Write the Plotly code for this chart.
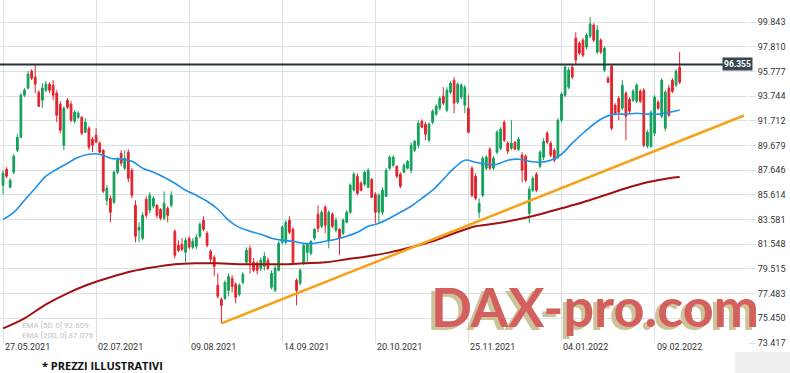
import plotly.graph_objects as go

# ---------------- data ----------------
open_ = [86.41, 87.72, 86.24, 87.48, 89.29, 90.36, 93.82, 94.40, 95.80, 95.31,
         94.07, 93.41, 94.23, 94.73, 94.65, 93.99, 93.08, 89.70, 93.41, 93.08,
         91.68, 92.01, 92.01, 90.77, 91.10, 90.20, 90.53, 89.87, 89.29, 85.17,
         85.33, 85.01, 87.48, 89.04, 87.81, 89.13, 87.64, 84.76, 82.70, 82.04,
         85.25, 84.35, 84.68, 84.76, 84.43, 83.69, 84.51, 84.76, 82.62, 81.46,
         81.54, 80.89, 82.04, 81.30, 81.38, 82.20, 83.52, 82.45, 80.97, 80.47,
         78.17, 77.01, 77.09, 77.75, 78.74, 78.25, 77.42, 78.41, 80.06, 81.21,
         80.06, 79.98, 79.57, 79.73, 80.23, 78.00, 77.75, 79.40, 81.71, 81.71,
         83.52, 82.78, 78.58, 78.33, 79.98, 80.89, 80.80, 82.04, 84.02, 83.03,
         84.59, 81.87, 84.02, 82.70, 82.78, 82.45, 83.36, 84.18, 85.99, 87.15,
         86.57, 86.49, 86.24, 86.90, 85.66, 84.18, 84.18, 85.50, 87.81, 88.05,
         87.97, 87.31, 87.48, 87.81, 87.64, 89.29, 89.70, 91.68, 91.43, 90.11,
         91.60, 92.26, 92.75, 93.74, 92.59, 94.07, 95.06, 93.25, 93.66, 93.00,
         92.75, 87.81, 87.15, 84.18, 85.58, 87.81, 89.37, 87.81, 89.13, 89.45,
         91.60, 89.87, 89.45, 89.95, 89.37, 88.88, 88.80, 84.10, 85.99, 87.31,
         87.97, 88.71, 90.69, 89.87, 89.29, 88.71, 91.76, 93.82, 94.48, 96.13,
         98.52, 98.11, 98.35, 97.78, 98.68, 99.59, 97.37, 98.35, 95.88, 95.22,
         96.21, 93.00, 93.57, 92.75, 93.99, 93.49, 93.41, 93.33, 94.15, 94.23,
         89.62, 89.62, 90.69, 93.25, 92.09, 91.10, 94.40, 95.06, 94.65, 96.13]

high = [87.64, 87.89, 86.98, 88.96, 90.61, 93.99, 94.40, 95.80, 95.96, 96.29,
        94.23, 94.81, 94.98, 94.89, 95.06, 94.23, 93.33, 92.92, 93.57, 93.33,
        92.59, 92.50, 92.09, 91.93, 91.27, 90.36, 91.10, 90.03, 89.37, 86.41,
        85.58, 87.64, 88.71, 89.29, 89.29, 89.37, 87.81, 85.17, 83.36, 84.18,
        85.50, 85.83, 85.50, 84.84, 84.51, 85.91, 84.68, 85.91, 82.78, 81.87,
        82.04, 82.12, 82.20, 82.04, 82.37, 83.36, 83.85, 82.62, 81.13, 80.64,
        79.15, 77.18, 78.58, 79.15, 78.99, 78.41, 78.33, 79.24, 81.30, 81.46,
        80.39, 80.14, 80.47, 80.89, 80.47, 79.40, 79.81, 81.79, 83.11, 83.52,
        83.85, 82.95, 78.74, 79.57, 81.63, 81.63, 81.87, 82.86, 84.76, 84.35,
        84.76, 84.35, 84.18, 83.77, 82.86, 83.69, 84.35, 86.57, 87.48, 87.39,
        86.74, 87.64, 87.81, 86.98, 85.83, 85.75, 86.24, 87.81, 88.88, 88.88,
        88.05, 87.48, 88.22, 88.47, 89.95, 90.11, 91.76, 91.84, 91.60, 91.60,
        92.67, 93.08, 93.74, 94.48, 94.48, 94.98, 95.31, 94.89, 94.81, 94.65,
        93.82, 87.97, 87.39, 85.33, 88.80, 88.88, 89.54, 88.80, 90.94, 91.19,
        91.76, 90.03, 91.76, 90.03, 90.36, 89.13, 88.96, 86.32, 87.15, 87.48,
        89.29, 90.28, 90.86, 90.03, 89.45, 91.93, 94.07, 96.29, 96.13, 96.29,
        99.01, 98.27, 98.52, 98.93, 100.25, 99.75, 99.59, 98.52, 97.86, 95.39,
        96.38, 93.16, 93.74, 95.06, 94.15, 93.66, 94.32, 94.81, 94.32, 94.40,
        90.94, 92.59, 93.82, 93.41, 95.22, 94.23, 94.65, 95.22, 95.96, 97.37]

low = [85.66, 86.98, 86.16, 87.31, 89.13, 90.28, 93.66, 94.32, 95.06, 93.99,
       92.83, 92.75, 94.07, 93.99, 93.41, 91.60, 90.69, 89.29, 92.67, 91.60,
       91.51, 91.84, 90.53, 90.69, 89.29, 89.13, 89.87, 89.04, 85.75, 84.76,
       83.36, 84.84, 87.31, 87.97, 87.64, 86.65, 85.33, 81.71, 81.71, 81.87,
       83.69, 84.10, 84.51, 83.69, 83.52, 83.52, 83.36, 84.59, 80.39, 80.89,
       80.97, 80.06, 81.13, 81.13, 81.13, 82.04, 82.62, 81.30, 80.06, 78.91,
       77.09, 75.03, 76.93, 77.26, 77.59, 76.68, 77.26, 78.25, 79.90, 79.15,
       79.24, 79.07, 79.32, 79.40, 79.40, 77.84, 77.59, 79.32, 81.54, 81.54,
       82.37, 79.90, 76.52, 78.17, 79.81, 79.98, 80.64, 81.87, 82.53, 82.86,
       82.45, 81.21, 82.86, 82.53, 80.64, 82.29, 83.27, 84.02, 85.91, 85.58,
       85.91, 86.32, 86.16, 85.33, 83.27, 83.27, 83.93, 85.42, 87.64, 87.89,
       86.98, 86.16, 87.39, 87.72, 87.39, 89.13, 89.45, 91.10, 90.11, 89.95,
       91.43, 92.09, 92.59, 93.00, 92.42, 93.90, 92.34, 93.08, 93.49, 92.34,
       90.69, 85.42, 85.17, 83.69, 85.42, 87.64, 87.64, 87.64, 88.96, 89.29,
       89.95, 88.96, 89.29, 89.29, 89.21, 86.65, 86.65, 83.27, 85.83, 85.83,
       87.81, 88.47, 89.78, 88.71, 88.30, 88.55, 91.60, 93.66, 94.32, 95.14,
       96.38, 97.12, 96.95, 97.61, 98.52, 98.19, 97.20, 97.20, 95.72, 94.81,
       90.94, 92.17, 91.76, 92.59, 90.11, 92.34, 93.25, 93.16, 93.16, 89.54,
       89.45, 89.45, 90.44, 92.59, 91.93, 90.86, 92.01, 93.99, 94.48, 94.73]

close = [87.39, 87.15, 86.82, 88.80, 90.36, 93.82, 94.23, 95.55, 95.22, 94.73,
         92.92, 94.40, 94.73, 94.23, 93.82, 92.17, 90.94, 92.75, 92.83, 91.76,
         92.42, 92.34, 90.69, 91.60, 89.54, 89.70, 89.95, 89.13, 85.91, 86.16,
         84.18, 87.48, 88.47, 88.22, 88.63, 86.98, 85.58, 82.20, 82.95, 83.93,
         83.93, 85.58, 85.33, 83.93, 83.69, 84.92, 83.93, 85.58, 80.64, 81.05,
         81.13, 81.87, 81.30, 81.79, 82.12, 83.19, 82.78, 81.46, 80.31, 79.73,
         77.26, 76.52, 78.41, 78.91, 78.08, 77.18, 78.17, 79.07, 81.05, 80.06,
         79.40, 79.40, 80.23, 80.56, 79.57, 79.15, 79.57, 81.63, 82.95, 83.36,
         82.53, 80.06, 77.75, 79.40, 81.46, 81.54, 81.79, 82.78, 82.86, 84.18,
         83.11, 84.18, 83.03, 83.52, 82.04, 83.52, 84.18, 86.41, 87.31, 85.75,
         85.99, 87.48, 87.64, 85.42, 84.18, 85.58, 85.99, 87.64, 88.71, 88.71,
         87.15, 86.32, 88.05, 88.38, 89.70, 90.03, 91.51, 91.19, 90.61, 91.43,
         92.50, 92.92, 93.57, 93.16, 94.23, 94.81, 93.16, 94.73, 94.65, 94.48,
         90.77, 85.58, 85.33, 84.92, 88.63, 88.71, 87.81, 88.63, 90.77, 91.02,
         90.11, 89.21, 89.87, 89.37, 90.20, 87.64, 86.82, 86.08, 86.98, 85.99,
         89.13, 90.03, 89.95, 88.88, 88.47, 91.76, 93.90, 96.13, 95.88, 95.31,
         96.71, 97.28, 97.12, 98.77, 99.67, 98.35, 99.18, 97.37, 97.69, 94.89,
         91.10, 92.34, 92.42, 94.65, 92.09, 92.50, 94.15, 94.65, 93.33, 89.70,
         90.77, 92.42, 93.66, 92.75, 95.06, 94.07, 92.17, 94.15, 95.80, 94.89]

ema50_idx = [0, 3, 6, 9, 12, 15, 18, 21, 24, 27, 30, 33, 36, 39, 42, 45, 48, 51, 54, 57,
             60, 63, 66, 69, 72, 75, 78, 81, 84, 87, 90, 93, 96, 99, 102, 105, 108, 111,
             114, 117, 120, 123, 126, 129, 132, 135, 138, 141, 144, 147, 150, 153, 156,
             159, 162, 165, 168, 171, 174, 177, 180, 183, 186, 189]
ema50 = [83.60, 84.18, 85.17, 86.16, 87.15, 87.72, 88.22, 88.71, 88.96, 88.96,
         88.63, 88.55, 88.38, 87.81, 87.48, 87.07, 86.57, 86.00, 85.58, 85.09,
         84.43, 83.52, 82.94, 82.62, 82.37, 82.04, 81.87, 81.79, 81.63, 81.63,
         81.79, 81.96, 82.20, 82.53, 83.03, 83.27, 83.69, 84.18, 84.68, 85.33,
         86.00, 86.90, 87.81, 88.47, 88.30, 88.14, 88.14, 88.47, 88.55, 88.38,
         88.30, 88.47, 88.96, 89.87, 90.69, 91.43, 92.01, 92.26, 92.26, 92.34,
         92.26, 92.26, 92.42, 92.61]

ema200_idx = [0, 6, 12, 18, 24, 30, 36, 42, 48, 54, 60, 66, 72, 78, 84, 90, 96, 102,
              108, 114, 120, 126, 132, 138, 144, 150, 156, 162, 168, 174, 180, 186, 189]
ema200 = [74.62, 75.45, 76.60, 77.51, 78.25, 78.83, 79.32, 79.65, 79.90, 79.98,
          79.98, 79.90, 79.90, 79.90, 79.98, 80.06, 80.31, 80.56, 80.88, 81.30,
          81.79, 82.45, 83.03, 83.27, 83.60, 84.02, 84.51, 85.01, 85.58, 86.16,
          86.65, 86.98, 87.08]

trend_idx = [61, 207]
trend_val = [75.03, 92.15]

level = 96.355

x_tick_idx = [0, 26, 52, 78, 104, 130, 156, 182]
x_tick_text = ["27.05.2021", "02.07.2021", "09.08.2021", "14.09.2021",
               "20.10.2021", "25.11.2021", "04.01.2022", "09.02.2022"]

y_tick_vals = [73.417, 75.450, 77.483, 79.515, 81.548, 83.581, 85.614, 87.646,
               89.679, 91.712, 93.744, 95.777, 97.810, 99.843]
y_tick_text = ["73.417", "75.450", "77.483", "79.515", "81.548", "83.581", "85.614",
               "87.646", "89.679", "91.712", "93.744", "95.777", "97.810", "99.843"]

legend_lines = ["EMA [50, 0] 92.609", "EMA [200, 0] 87.076"]

# ---------------- figure ----------------
GREEN = "#12a05a"
RED = "#e3232c"
GRID = "#dde1e4"
FONT = "Roboto"

idx = list(range(len(close)))

fig = go.Figure()
fig.add_trace(go.Candlestick(
    x=idx, open=open_, high=high, low=low, close=close,
    increasing=dict(line=dict(color=GREEN, width=1), fillcolor=GREEN),
    decreasing=dict(line=dict(color=RED, width=1), fillcolor=RED),
    whiskerwidth=0, showlegend=False, hoverinfo="skip"))
fig.add_trace(go.Scatter(x=ema200_idx, y=ema200, mode="lines",
                         line=dict(color="#a01212", width=2, shape="spline"),
                         showlegend=False, hoverinfo="skip"))
fig.add_trace(go.Scatter(x=ema50_idx, y=ema50, mode="lines",
                         line=dict(color="#1e90e8", width=1.6, shape="spline"),
                         showlegend=False, hoverinfo="skip"))
fig.add_trace(go.Scatter(x=trend_idx, y=trend_val, mode="lines",
                         line=dict(color="#f7a11a", width=2.5),
                         showlegend=False, hoverinfo="skip"))

fig.add_shape(type="line", xref="paper", x0=0, x1=1, yref="y", y0=level, y1=level,
              line=dict(color="#263238", width=2), layer="above")

annotations = []
for xi, tx in zip(x_tick_idx, x_tick_text):
    annotations.append(dict(x=xi, y=0, xref="x", yref="paper", text=tx,
                            xanchor="left", yanchor="top", yshift=3, showarrow=False,
                            font=dict(family=FONT, size=9, color="#333333")))

annotations.append(dict(x=737 / 748, y=level, xref="paper", yref="y",
                        text="<b>%.3f</b>" % level, showarrow=False,
                        xanchor="center", yanchor="middle",
                        bgcolor="#37474f", borderpad=1,
                        font=dict(family=FONT, size=8.5, color="#ffffff")))

for k, t in enumerate(legend_lines):
    annotations.append(dict(x=20 / 748, y=[0.052, 0.022][k], xref="paper", yref="paper",
                            text=t, showarrow=False, xanchor="left", yanchor="middle",
                            font=dict(family=FONT, size=8, color="#c2c2c2")))

annotations.append(dict(x=0.795, y=0.105, xref="paper", yref="paper",
                        text="DAX-pro.com", showarrow=False,
                        xanchor="center", yanchor="middle",
                        font=dict(family="Lato", size=54,
                                  weight="bold", color="#d4605e",
                                  shadow="-4px 3px 0px #cdc39a")))

annotations.append(dict(x=40 / 748, y=-0.067, xref="paper", yref="paper",
                        text="<b>* PREZZI ILLUSTRATIVI</b>", showarrow=False,
                        xanchor="left", yanchor="middle",
                        font=dict(family="Open Sans", size=11, color="#111111")))

fig.add_shape(type="rect", xref="paper", yref="paper", x0=735 / 748, x1=790 / 748,
              y0=-0.026, y1=-0.09, fillcolor="#eef0f2", line=dict(width=0))

fig.update_layout(
    width=790, height=373,
    margin=dict(l=0, r=42, t=0, b=30),
    paper_bgcolor="white", plot_bgcolor="white",
    annotations=annotations,
    xaxis=dict(range=[-0.84, 208.1], tickvals=x_tick_idx, showticklabels=False,
               showgrid=True, gridcolor=GRID, gridwidth=1, zeroline=False,
               rangeslider=dict(visible=False), showline=False, ticks=""),
    yaxis=dict(range=[73.417, 101.66], side="right", tickvals=y_tick_vals,
               ticktext=y_tick_text, showgrid=True, gridcolor=GRID, gridwidth=1,
               zeroline=False, ticks="outside", ticklen=7, tickcolor=GRID,
               tickfont=dict(family=FONT, size=9, color="#333333"), showline=False),
    font=dict(family=FONT),
)

fig.write_html("out.html",
               config={"displayModeBar": False},
               post_script="document.body.style.margin='0';"
                           "document.body.style.overflow='hidden';")
